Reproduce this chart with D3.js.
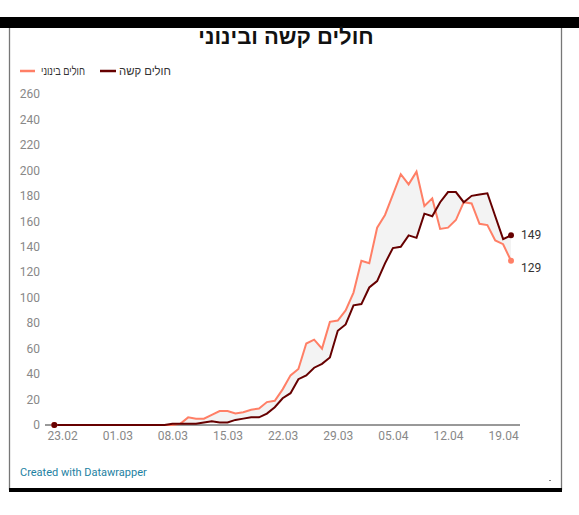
<!DOCTYPE html>
<html><head><meta charset="utf-8">
<script src="https://cdn.jsdelivr.net/npm/d3@7"></script>
<style>
html,body{margin:0;padding:0;background:#fff;}
svg{display:block;font-family:Roboto,"Liberation Sans",sans-serif;}
</style></head>
<body>
<svg id="c" width="579" height="515"></svg>
<script>
const startDate = "2020-02-22";
const endDate = "2020-04-20";
// חולים קשה (severe) — daily values 22.02 .. 20.04
const severe = [0,0,0,0,0,0,0,0,0,0,0,0,0,0,0,1,1,1,1,2,3,2,2,4,5,6,6,9,14,21,25,36,39,45,48,53,74,79,94,95,108,113,127,139,140,149,147,166,164,175,183,183,175,180,181,182,164,146,149];
// חולים בינוני (moderate)
const moderate = [0,0,0,0,0,0,0,0,0,0,0,0,0,0,0,0,1,6,5,5,8,11,11,9,10,12,13,18,19,28,39,44,64,67,60,81,82,90,104,129,127,155,165,181,197,189,199,172,178,154,155,161,175,174,158,157,145,142,129];
const yTicks = [0,20,40,60,80,100,120,140,160,180,200,220,240,260];
const xTickLabels = ["23.02","01.03","08.03","15.03","22.03","29.03","05.04","12.04","19.04"];
const seriesNames = ["חולים בינוני","חולים קשה"];
const title = "חולים קשה ובינוני";

const parse = d3.timeParse("%Y-%m-%d");
const t0 = parse(startDate), t1 = parse(endDate);
const dates = d3.timeDay.range(t0, d3.timeDay.offset(t1,1));
const data = dates.map((d,i)=>({date:d, s:severe[i], m:moderate[i]}));

const svg = d3.select("#c");
const x = d3.scaleTime().domain([t0,t1]).range([54.3,511]);
const y = d3.scaleLinear().domain([0,260]).range([425,94]);

const DARK = "#660000", LIGHT = "#ff7f66";

// frame
svg.append("rect").attr("x",0).attr("y",17).attr("width",579).attr("height",11).attr("fill","#000");
svg.append("line").attr("x1",9.5).attr("x2",9.5).attr("y1",28).attr("y2",490).attr("stroke","#777").attr("stroke-width",1.3);
svg.append("line").attr("x1",561.5).attr("x2",561.5).attr("y1",28).attr("y2",490).attr("stroke","#777").attr("stroke-width",1.3);
svg.append("rect").attr("x",9).attr("y",488).attr("width",553).attr("height",4).attr("fill","#000");

// title
svg.append("text").attr("x",286).attr("y",44).attr("text-anchor","middle")
  .attr("font-family","'Liberation Sans',Arial,sans-serif").attr("font-weight","bold").attr("font-size",22).attr("fill","#111").text(title);

// legend
const lg = svg.append("g");
lg.append("line").attr("x1",20).attr("x2",35).attr("y1",71).attr("y2",71).attr("stroke",LIGHT).attr("stroke-width",2.5);
lg.append("text").attr("x",85).attr("y",75).attr("text-anchor","end").attr("font-size",12.5).attr("fill","#333")
  .attr("font-family","'Liberation Sans',Arial,sans-serif")
  .attr("textLength",44).attr("lengthAdjust","spacingAndGlyphs").text(seriesNames[0]);
lg.append("line").attr("x1",100).attr("x2",116).attr("y1",71).attr("y2",71).attr("stroke",DARK).attr("stroke-width",2.5);
lg.append("text").attr("x",171).attr("y",75).attr("text-anchor","end").attr("font-size",12.5).attr("fill","#333")
  .attr("font-family","'Liberation Sans',Arial,sans-serif")
  .attr("textLength",52).attr("lengthAdjust","spacingAndGlyphs").text(seriesNames[1]);

// y tick labels
svg.append("g").selectAll("text").data(yTicks).join("text")
  .attr("x",40).attr("y",d=>y(d)).attr("dy","0.35em").attr("text-anchor","end")
  .attr("font-size",12).attr("fill","#888").text(d=>d);

// area between
const area = d3.area().x(d=>x(d.date)).y0(d=>y(d.s)).y1(d=>y(d.m));
svg.append("path").datum(data).attr("d",area).attr("fill","#f3f3f3");

// baseline axis
const xTicks = xTickLabels.map(s=>{const [dd,mm]=s.split("."); return new Date(2020,+mm-1,+dd);});
const xAxis = d3.axisBottom(x).tickValues(xTicks).tickFormat(d3.timeFormat("%d.%m")).tickSize(0).tickPadding(6);
const gx = svg.append("g").attr("transform","translate(0,425)").call(xAxis);
gx.select(".domain").remove();
gx.selectAll("text").attr("font-size",12).attr("fill","#888").attr("font-family","Roboto,sans-serif");
svg.append("line").attr("x1",45).attr("x2",520).attr("y1",y(0)).attr("y2",y(0)).attr("stroke","#333").attr("stroke-width",1);

// lines
const lineM = d3.line().x(d=>x(d.date)).y(d=>y(d.m));
const lineS = d3.line().x(d=>x(d.date)).y(d=>y(d.s));
svg.append("path").datum(data).attr("d",lineM).attr("fill","none").attr("stroke",LIGHT).attr("stroke-width",2);
svg.append("path").datum(data).attr("d",lineS).attr("fill","none").attr("stroke",DARK).attr("stroke-width",2);

// end dots
const first = data[0], last = data[data.length-1];
svg.append("circle").attr("cx",x(first.date)).attr("cy",y(first.m)).attr("r",3).attr("fill",LIGHT);
svg.append("circle").attr("cx",x(first.date)).attr("cy",y(first.s)).attr("r",3).attr("fill",DARK);
svg.append("circle").attr("cx",x(last.date)).attr("cy",y(last.m)).attr("r",3).attr("fill",LIGHT);
svg.append("circle").attr("cx",x(last.date)).attr("cy",y(last.s)).attr("r",3).attr("fill",DARK);

// end labels
svg.append("text").attr("x",x(last.date)+10).attr("y",y(last.s)-1).attr("dy","0.35em").attr("font-size",12).attr("fill","#333").text(last.s);
svg.append("text").attr("x",x(last.date)+10).attr("y",y(last.m)+7).attr("dy","0.35em").attr("font-size",12).attr("fill","#333").text(last.m);

// credit
svg.append("text").attr("x",20).attr("y",476).attr("font-size",11).attr("fill","#1d81a2").text("Created with Datawrapper");
svg.append("rect").attr("x",549.5).attr("y",480).attr("width",1).attr("height",1).attr("fill","#000");
</script>
</body></html>
